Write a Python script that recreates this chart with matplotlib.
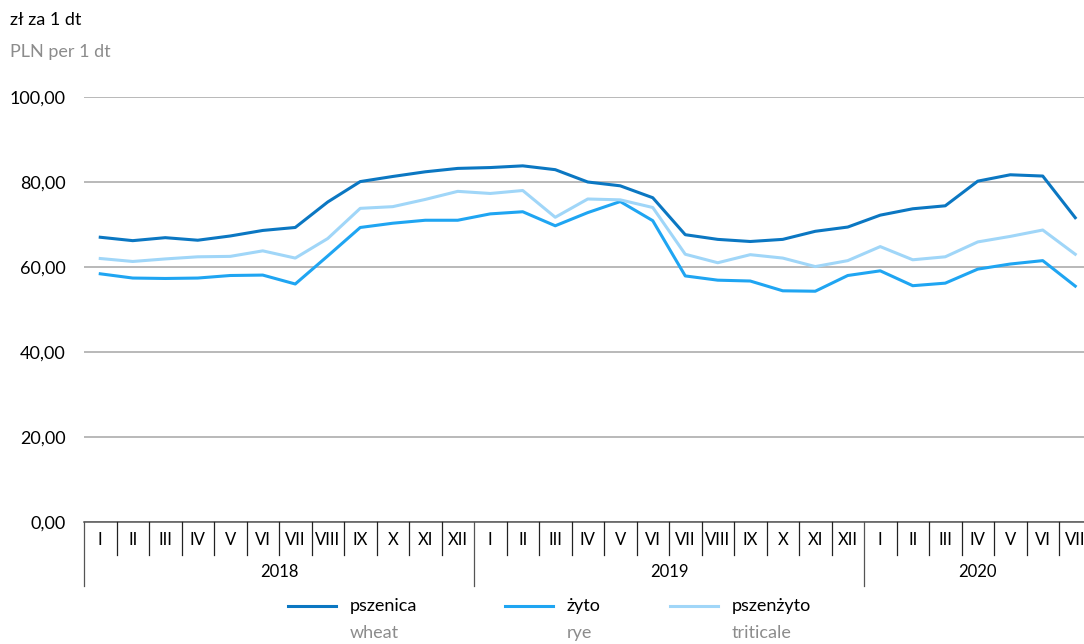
import matplotlib
matplotlib.use("Agg")
import matplotlib.pyplot as plt
from matplotlib.lines import Line2D
from matplotlib.transforms import blended_transform_factory

plt.rcParams['font.family'] = ['Lato', 'DejaVu Sans']

months = ["I", "II", "III", "IV", "V", "VI", "VII", "VIII", "IX", "X", "XI", "XII"]
years = ["2018", "2019", "2020"]
labels = months + months + months[:7]

pszenica = [67.0, 66.2, 66.9, 66.3, 67.3, 68.6, 69.3, 75.3, 80.1, 81.3, 82.4, 83.2,
            83.4, 83.8, 82.9, 80.0, 79.1, 76.3, 67.6, 66.5, 66.0, 66.5, 68.4, 69.4,
            72.2, 73.7, 74.4, 80.2, 81.7, 81.4, 71.6]
zyto = [58.4, 57.4, 57.3, 57.4, 58.0, 58.1, 56.0, 62.6, 69.3, 70.3, 71.0, 71.0,
        72.5, 73.0, 69.7, 72.8, 75.4, 70.9, 57.9, 56.9, 56.7, 54.4, 54.3, 58.0,
        59.1, 55.6, 56.2, 59.5, 60.7, 61.5, 55.5]
pszenzyto = [62.0, 61.3, 61.9, 62.4, 62.5, 63.8, 62.1, 66.7, 73.8, 74.2, 75.9, 77.8,
             77.3, 78.0, 71.7, 76.0, 75.8, 74.0, 63.0, 61.0, 62.9, 62.1, 60.1, 61.5,
             64.8, 61.7, 62.4, 65.9, 67.2, 68.7, 63.0]

c_dark = "#0b77c2"
c_mid = "#1fa5f2"
c_light = "#a0d6f8"

W, H = 1084, 644
fig = plt.figure(figsize=(W / 100, H / 100), dpi=100)
# axes runs a bit past the right edge, as in the original
ax = fig.add_axes([84 / W, 1 - 522 / H, (1091.5 - 84) / W, 425 / H])

x = list(range(len(labels)))
ax.plot(x, pszenica, color=c_dark, lw=2.2, solid_joinstyle="round")
ax.plot(x, zyto, color=c_mid, lw=2.2, solid_joinstyle="round")
ax.plot(x, pszenzyto, color=c_light, lw=2.2, solid_joinstyle="round")

ax.set_xlim(-0.5, len(labels) - 0.5)
ax.set_ylim(0, 100)
ax.set_yticks([0, 20, 40, 60, 80, 100])
ax.set_yticklabels(["0,00", "20,00", "40,00", "60,00", "80,00", "100,00"])
ax.tick_params(axis="y", length=0, pad=13, labelsize=13)
ax.set_xticks([])
for s in ax.spines.values():
    s.set_visible(False)
ax.yaxis.grid(True, color="#a6a6a6", lw=1.1)
ax.set_axisbelow(True)
ax.axhline(0, color="#555555", lw=1.1, clip_on=False)

# category axis
tr = blended_transform_factory(ax.transData, ax.transAxes)
h = 425
for i in range(len(labels) + 1):
    xb = i - 0.5
    is_year = (i % 12 == 0)
    ax.plot([xb, xb], [0, -(64 if is_year else 33) / h], color="#555555" if is_year else "#222222",
            lw=0.9, transform=tr, clip_on=False)
for i, lab in enumerate(labels):
    ax.text(i, -18 / h, lab, transform=tr, ha="center", va="center", fontsize=12, clip_on=False)
for k, yr in enumerate(years):
    start = k * 12
    end = min(start + 12, len(labels))
    ax.text((start + end - 1) / 2, -50 / h, yr, transform=tr, ha="center", va="center", fontsize=12)

# titles
fig.text(10 / W, 1 - 20 / H, "zł za 1 dt", fontsize=13, va="center", ha="left")
fig.text(10 / W, 1 - 52 / H, "PLN per 1 dt", fontsize=13, va="center", ha="left", color="#8c8c8c")

# legend
items = [("pszenica", "wheat", c_dark, 288), ("żyto", "rye", c_mid, 505), ("pszenżyto", "triticale", c_light, 670)]
for lab, en, col, x0 in items:
    fig.add_artist(Line2D([x0 / W, (x0 + 48) / W], [1 - 606 / H] * 2, color=col, lw=2.2))
    fig.text((x0 + 62) / W, 1 - 606 / H, lab, fontsize=13, va="center", ha="left")
    fig.text((x0 + 62) / W, 1 - 633 / H, en, fontsize=13, va="center", ha="left", color="#8c8c8c")

fig.savefig("out.png", dpi=100)
